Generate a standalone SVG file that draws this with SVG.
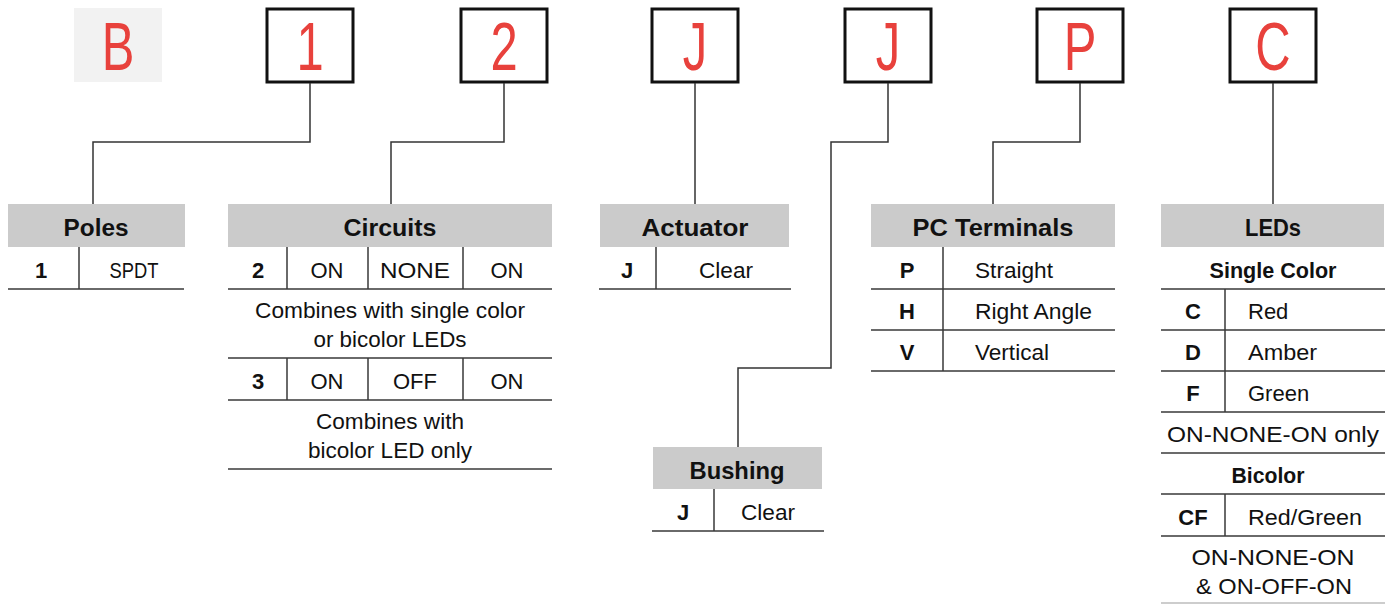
<svg xmlns="http://www.w3.org/2000/svg" width="1389" height="605" viewBox="0 0 1389 605">
<style>
.bg{fill:#ffffff}
.box{fill:#ffffff;stroke:#111111;stroke-width:3}
.gbox{fill:#f2f2f2}
.big{font-family:"Liberation Sans",Arial,sans-serif;font-size:68px;fill:#e8413c;text-anchor:middle}
.hdr{fill:#cbcbcb}
.ht{font-family:"Liberation Sans",Arial,sans-serif;font-size:24px;font-weight:bold;fill:#111111;text-anchor:middle}
.t{font-family:"Liberation Sans",Arial,sans-serif;font-size:22px;fill:#111111}
.b{font-weight:bold}
.m{text-anchor:middle}
.ln{stroke:#3a3a3a;stroke-width:1.5;fill:none}
.lg{stroke:#bdbdbd;stroke-width:1.5;fill:none}
.cn{stroke:#333333;stroke-width:1.5;fill:none}
</style>
<rect class="bg" x="0" y="0" width="1389" height="605"/>

<g id="code-B">
<rect class="gbox" x="74" y="8" width="88" height="74"/>
<text class="big" transform="translate(118,70) scale(0.72,1)">B</text>
</g>
<g id="code-1">
<rect class="box" x="267" y="9" width="86" height="73"/>
<text class="big" transform="translate(310,70) scale(0.72,1)">1</text>
</g>
<g id="code-2">
<rect class="box" x="461" y="9" width="86" height="73"/>
<text class="big" transform="translate(504,70) scale(0.72,1)">2</text>
</g>
<g id="code-J1">
<rect class="box" x="652" y="9" width="86" height="73"/>
<text class="big" transform="translate(695,70) scale(0.72,1)">J</text>
</g>
<g id="code-J2">
<rect class="box" x="845" y="9" width="86" height="73"/>
<text class="big" transform="translate(888,70) scale(0.72,1)">J</text>
</g>
<g id="code-P">
<rect class="box" x="1037" y="9" width="86" height="73"/>
<text class="big" transform="translate(1080,70) scale(0.72,1)">P</text>
</g>
<g id="code-C">
<rect class="box" x="1230" y="9" width="86" height="73"/>
<text class="big" transform="translate(1273,70) scale(0.72,1)">C</text>
</g>

<g id="connectors">
<path class="cn" d="M310,83 V142 H93 V204"/>
<path class="cn" d="M504,83 V142 H391 V204"/>
<path class="cn" d="M695,83 V204"/>
<path class="cn" d="M888,83 V142 H831 V368 H738 V447"/>
<path class="cn" d="M1080,83 V142 H993 V204"/>
<path class="cn" d="M1273,83 V204"/>
</g>

<g id="poles">
<rect class="hdr" x="8" y="204" width="177" height="43"/>
<text class="ht" x="96" y="236" textLength="65" lengthAdjust="spacingAndGlyphs">Poles</text>
<path class="ln" d="M79,247 V289 M8,289 H184"/>
<text class="t b m" x="41" y="278">1</text>
<text class="t m" x="134" y="278" textLength="49" lengthAdjust="spacingAndGlyphs">SPDT</text>
</g>

<g id="circuits">
<rect class="hdr" x="228" y="204" width="324" height="43"/>
<text class="ht" x="390" y="236" textLength="93" lengthAdjust="spacingAndGlyphs">Circuits</text>
<path class="ln" d="M287,247 V289 M368,247 V289 M463,247 V289 M228,289 H552"/>
<text class="t b m" x="258" y="278">2</text>
<text class="t m" x="327" y="278">ON</text>
<text class="t m" x="415" y="278" textLength="70" lengthAdjust="spacingAndGlyphs">NONE</text>
<text class="t m" x="507" y="278">ON</text>
<text class="t m" x="390" y="318" textLength="270" lengthAdjust="spacingAndGlyphs">Combines with single color</text>
<text class="t m" x="390" y="347" textLength="153" lengthAdjust="spacingAndGlyphs">or bicolor LEDs</text>
<path class="ln" d="M228,358 H552 M287,358 V400 M368,358 V400 M463,358 V400 M228,400 H552"/>
<text class="t b m" x="258" y="389">3</text>
<text class="t m" x="327" y="389">ON</text>
<text class="t m" x="415" y="389">OFF</text>
<text class="t m" x="507" y="389">ON</text>
<text class="t m" x="390" y="429" textLength="148" lengthAdjust="spacingAndGlyphs">Combines with</text>
<text class="t m" x="390" y="458" textLength="164" lengthAdjust="spacingAndGlyphs">bicolor LED only</text>
<path class="ln" d="M228,469 H552"/>
</g>

<g id="actuator">
<rect class="hdr" x="600" y="204" width="189" height="43"/>
<text class="ht" x="695" y="236" textLength="107" lengthAdjust="spacingAndGlyphs">Actuator</text>
<path class="ln" d="M656,247 V289 M599,289 H791"/>
<text class="t b m" x="627" y="278">J</text>
<text class="t m" x="726" y="278" textLength="54" lengthAdjust="spacingAndGlyphs">Clear</text>
</g>

<g id="bushing">
<rect class="hdr" x="653" y="447" width="169" height="42"/>
<text class="ht" x="737" y="479" textLength="95" lengthAdjust="spacingAndGlyphs">Bushing</text>
<path class="ln" d="M714,489 V531 M652,531 H824"/>
<text class="t b m" x="683" y="520">J</text>
<text class="t m" x="768" y="520" textLength="54" lengthAdjust="spacingAndGlyphs">Clear</text>
</g>

<g id="pc-terminals">
<rect class="hdr" x="871" y="204" width="244" height="43"/>
<text class="ht" x="993" y="236" textLength="161" lengthAdjust="spacingAndGlyphs">PC Terminals</text>
<path class="ln" d="M943,247 V371 M871,289 H1115 M871,330 H1115 M871,371 H1115"/>
<text class="t b m" x="907" y="278">P</text>
<text class="t" x="975" y="278" textLength="78" lengthAdjust="spacingAndGlyphs">Straight</text>
<text class="t b m" x="907" y="319">H</text>
<text class="t" x="975" y="319" textLength="117" lengthAdjust="spacingAndGlyphs">Right Angle</text>
<text class="t b m" x="907" y="360">V</text>
<text class="t" x="975" y="360" textLength="74" lengthAdjust="spacingAndGlyphs">Vertical</text>
</g>

<g id="leds">
<rect class="hdr" x="1161" y="204" width="223" height="43"/>
<text class="ht" x="1273" y="236" textLength="56" lengthAdjust="spacingAndGlyphs">LEDs</text>
<text class="t b m" x="1273" y="278" textLength="127" lengthAdjust="spacingAndGlyphs">Single Color</text>
<path class="ln" d="M1161,289 H1385 M1161,330 H1385 M1161,371 H1385 M1161,412 H1385 M1225,289 V412"/>
<text class="t b m" x="1193" y="319">C</text>
<text class="t" x="1248" y="319">Red</text>
<text class="t b m" x="1193" y="360">D</text>
<text class="t" x="1248" y="360" textLength="69" lengthAdjust="spacingAndGlyphs">Amber</text>
<text class="t b m" x="1193" y="401">F</text>
<text class="t" x="1248" y="401">Green</text>
<text class="t m" x="1273" y="442" textLength="212" lengthAdjust="spacingAndGlyphs">ON-NONE-ON only</text>
<path class="ln" d="M1161,453 H1385"/>
<text class="t b m" x="1268" y="483" textLength="73" lengthAdjust="spacingAndGlyphs">Bicolor</text>
<path class="ln" d="M1161,494 H1385 M1225,494 V536 M1161,536 H1385"/>
<text class="t b m" x="1193" y="525">CF</text>
<text class="t" x="1248" y="525" textLength="114" lengthAdjust="spacingAndGlyphs">Red/Green</text>
<text class="t m" x="1273" y="565" textLength="163" lengthAdjust="spacingAndGlyphs">ON-NONE-ON</text>
<text class="t m" x="1274" y="594" textLength="156" lengthAdjust="spacingAndGlyphs">&amp; ON-OFF-ON</text>
<path class="lg" d="M1161,603 H1385"/>
</g>
</svg>
